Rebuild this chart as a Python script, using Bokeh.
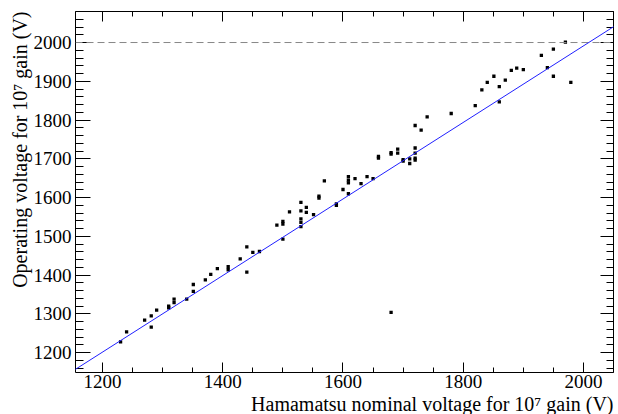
from bokeh.plotting import figure
from bokeh.models import (Range1d, LinearAxis, SingleIntervalTicker, Span, Title, Slope,
                          CustomJSTickFormatter)
from bokeh.embed import file_html
from bokeh.resources import INLINE

# Data
x_nominal = [1230, 1240, 1270, 1281, 1281, 1290, 1310, 1310, 1319, 1319,
             1340, 1351, 1351, 1371, 1380, 1391, 1409, 1409, 1429, 1440,
             1440, 1450, 1461, 1490, 1500, 1500, 1500, 1511, 1530, 1530,
             1530, 1530, 1530, 1539, 1539, 1551, 1560, 1560, 1569, 1589,
             1589, 1600, 1609, 1609, 1609, 1609, 1620, 1630, 1640, 1650,
             1659, 1659, 1680, 1680, 1680, 1691, 1691, 1700, 1700, 1711,
             1711, 1720, 1720, 1720, 1720, 1720, 1730, 1740, 1780, 1820,
             1831, 1840, 1851, 1860, 1860, 1870, 1880, 1889, 1900, 1930,
             1940, 1950, 1950, 1970, 1979]
y_operating = [1228, 1254, 1284, 1295, 1266, 1310, 1316, 1320, 1338, 1329,
               1338, 1376, 1358, 1388, 1402, 1417, 1422, 1414, 1442, 1473,
               1408, 1459, 1461, 1529, 1539, 1532, 1493, 1563, 1588, 1566,
               1545, 1536, 1525, 1575, 1562, 1556, 1604, 1599, 1643, 1584,
               1580, 1621, 1654, 1645, 1638, 1610, 1649, 1636, 1654, 1649,
               1706, 1702, 1716, 1712, 1304, 1725, 1715, 1698, 1694, 1700,
               1688, 1786, 1728, 1715, 1702, 1697, 1774, 1808, 1817, 1837,
               1878, 1897, 1913, 1886, 1847, 1903, 1928, 1934, 1930, 1967,
               1935, 1983, 1913, 2001, 1897]
fit_intercept = 17.3
fit_slope = 0.987
ref_level = 2000

FONT = "Liberation Serif"

p = figure(width=618, height=414, output_backend="svg", toolbar_location=None,
           x_range=Range1d(1155, 2050), y_range=Range1d(1149, 2080),
           x_axis_type=None, y_axis_type=None,
           min_border_left=75, min_border_right=5, min_border_top=11, min_border_bottom=0)
p.outline_line_color = "black"
p.outline_line_width = 1
p.grid.visible = False
p.background_fill_color = "white"
p.border_fill_color = "white"

def style_axis(ax, major, minor, labels=True):
    ax.major_tick_in = major
    ax.major_tick_out = 0
    ax.minor_tick_in = minor
    ax.minor_tick_out = 0
    ax.axis_line_color = None
    ax.major_tick_line_color = "black"
    ax.minor_tick_line_color = "black"
    ax.axis_label_standoff = 0
    if labels:
        ax.major_label_text_font = FONT
        ax.major_label_text_font_size = "19px"
        ax.major_label_text_color = "black"
        ax.major_label_standoff = 3
    else:
        ax.formatter = CustomJSTickFormatter(code="return ''")
        ax.major_label_standoff = 0
        ax.major_label_text_font_size = "1px"

xb = LinearAxis(ticker=SingleIntervalTicker(interval=200, num_minor_ticks=4))
style_axis(xb, 10, 5)
xb.major_label_standoff = 2
p.add_layout(xb, "below")
xt = LinearAxis(ticker=SingleIntervalTicker(interval=200, num_minor_ticks=4))
style_axis(xt, 10, 5, labels=False)
p.add_layout(xt, "above")
yl = LinearAxis(ticker=SingleIntervalTicker(interval=100, num_minor_ticks=5))
style_axis(yl, 15, 8)
yl.major_label_standoff = 4
p.add_layout(yl, "left")
yr = LinearAxis(ticker=SingleIntervalTicker(interval=100, num_minor_ticks=5))
style_axis(yr, 13, 7, labels=False)
p.add_layout(yr, "right")

p.add_layout(Title(text="Hamamatsu nominal voltage for 10\u2077 gain (V)", align="right",
                   text_font=FONT, text_font_size="20px", text_font_style="normal",
                   text_color="black", standoff=0, offset=0), "below")
p.add_layout(Title(text="Operating voltage for 10\u2077 gain (V)", align="right",
                   text_font=FONT, text_font_size="20px", text_font_style="normal",
                   text_color="black", standoff=0, offset=0), "left")

p.add_layout(Span(location=ref_level, dimension="width", line_color="#888888",
                  line_width=1, line_dash="7 4"))
p.add_layout(Slope(gradient=fit_slope, y_intercept=fit_intercept,
                   line_color="#2020ff", line_width=1))

p.scatter(x_nominal, y_operating, marker="square", size=3.3, color="black", line_width=0)

open("out.html", "w").write(file_html(p, INLINE))
